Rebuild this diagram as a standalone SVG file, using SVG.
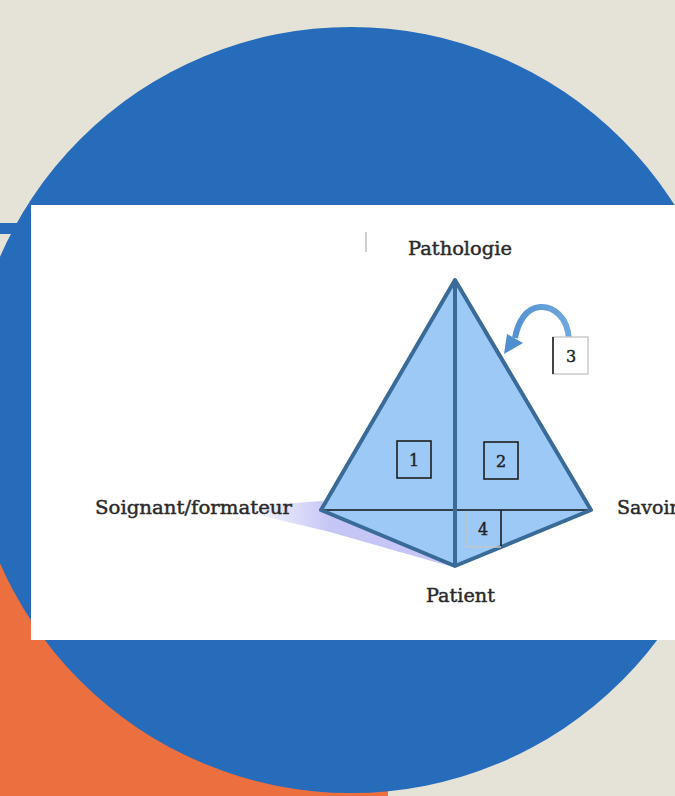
<svg xmlns="http://www.w3.org/2000/svg" width="675" height="796" viewBox="0 0 675 796">
<defs>
<style>
.lbl{font-family:"DejaVu Serif","Liberation Serif",serif;font-size:19px;fill:#2a2a2a;stroke:#2a2a2a;stroke-width:0.45}
.num{font-family:"DejaVu Serif","Liberation Serif",serif;font-size:16px;fill:#222;stroke:#222;stroke-width:0.4;text-anchor:middle}
.edge{fill:none;stroke:#3A6A98;stroke-width:4;stroke-linejoin:round;stroke-linecap:round}
.box{fill:none;stroke:#1e1e1e;stroke-width:1.6}
.faint{stroke:#c4c4c4;stroke-width:1.4}
</style>
<linearGradient id="shadow" x1="240" y1="0" x2="330" y2="0" gradientUnits="userSpaceOnUse">
<stop offset="0" stop-color="#C6C6F6" stop-opacity="0"/>
<stop offset="1" stop-color="#C6C6F6"/>
</linearGradient>
<linearGradient id="arc" x1="505" y1="0" x2="570" y2="0" gradientUnits="userSpaceOnUse">
<stop offset="0" stop-color="#4F8FCF"/>
<stop offset="1" stop-color="#6FA8DC"/>
</linearGradient>
</defs>
<g id="backdrop">
<rect width="675" height="796" fill="#E5E3D8"/>
<rect x="0" y="300" width="388" height="496" fill="#EC6F3F"/>
<circle cx="351" cy="410" r="383" fill="#276BBB"/>
<rect x="0" y="223" width="30" height="11" fill="#276BBB"/>
<rect x="31" y="205" width="650" height="435" fill="#FFFFFF"/>
<line x1="366" y1="232" x2="366" y2="252" stroke="#d0d0d0" stroke-width="2"/>
</g>
<g id="pyramid">
<polygon points="240,507 322,501 456,568 330,532 250,513" fill="url(#shadow)"/>
<polygon points="455,280 321,510 455,566 591,510" fill="#9CC9F5"/>
<line x1="323" y1="510" x2="589" y2="510" stroke="#111" stroke-width="1.5"/>
<line x1="455" y1="282" x2="455" y2="565" class="edge"/>
<polygon points="455,280 321,510 455,566 591,510" class="edge"/>
</g>
<g id="connectors">
<path d="M569,340 C568,316 552,306 540,307 C526,308 518,322 515,338" fill="none" stroke="url(#arc)" stroke-width="6"/>
<polygon points="504,354 507,334 523,343" fill="#4F8FCF"/>
</g>
<g id="label-pathologie"><text class="lbl" x="408" y="255" textLength="104" lengthAdjust="spacingAndGlyphs">Pathologie</text></g>
<g id="label-soignant"><text class="lbl" x="95" y="514" textLength="197" lengthAdjust="spacingAndGlyphs">Soignant/formateur</text></g>
<g id="label-savoir"><text class="lbl" x="617" y="514">Savoir</text></g>
<g id="label-patient"><text class="lbl" x="426" y="602" textLength="69" lengthAdjust="spacingAndGlyphs">Patient</text></g>
<g id="box-1">
<rect class="box" x="397" y="441" width="34" height="37"/>
<text class="num" x="414" y="466">1</text>
</g>
<g id="box-2">
<rect class="box" x="484" y="442" width="34" height="37"/>
<text class="num" x="501" y="467">2</text>
</g>
<g id="box-3">
<rect x="553" y="337" width="35" height="37" fill="#fff" stroke="#c8c8c8" stroke-width="1.4"/>
<line x1="553" y1="337" x2="553" y2="374" stroke="#1e1e1e" stroke-width="1.6"/>
<text class="num" x="571" y="362">3</text>
</g>
<g id="box-4">
<line class="faint" x1="467" y1="511" x2="467" y2="547"/>
<line class="faint" x1="467" y1="547" x2="501" y2="547"/>
<line x1="501" y1="510" x2="501" y2="546" stroke="#1e1e1e" stroke-width="1.6"/>
<text class="num" x="483" y="535">4</text>
</g>
</svg>
